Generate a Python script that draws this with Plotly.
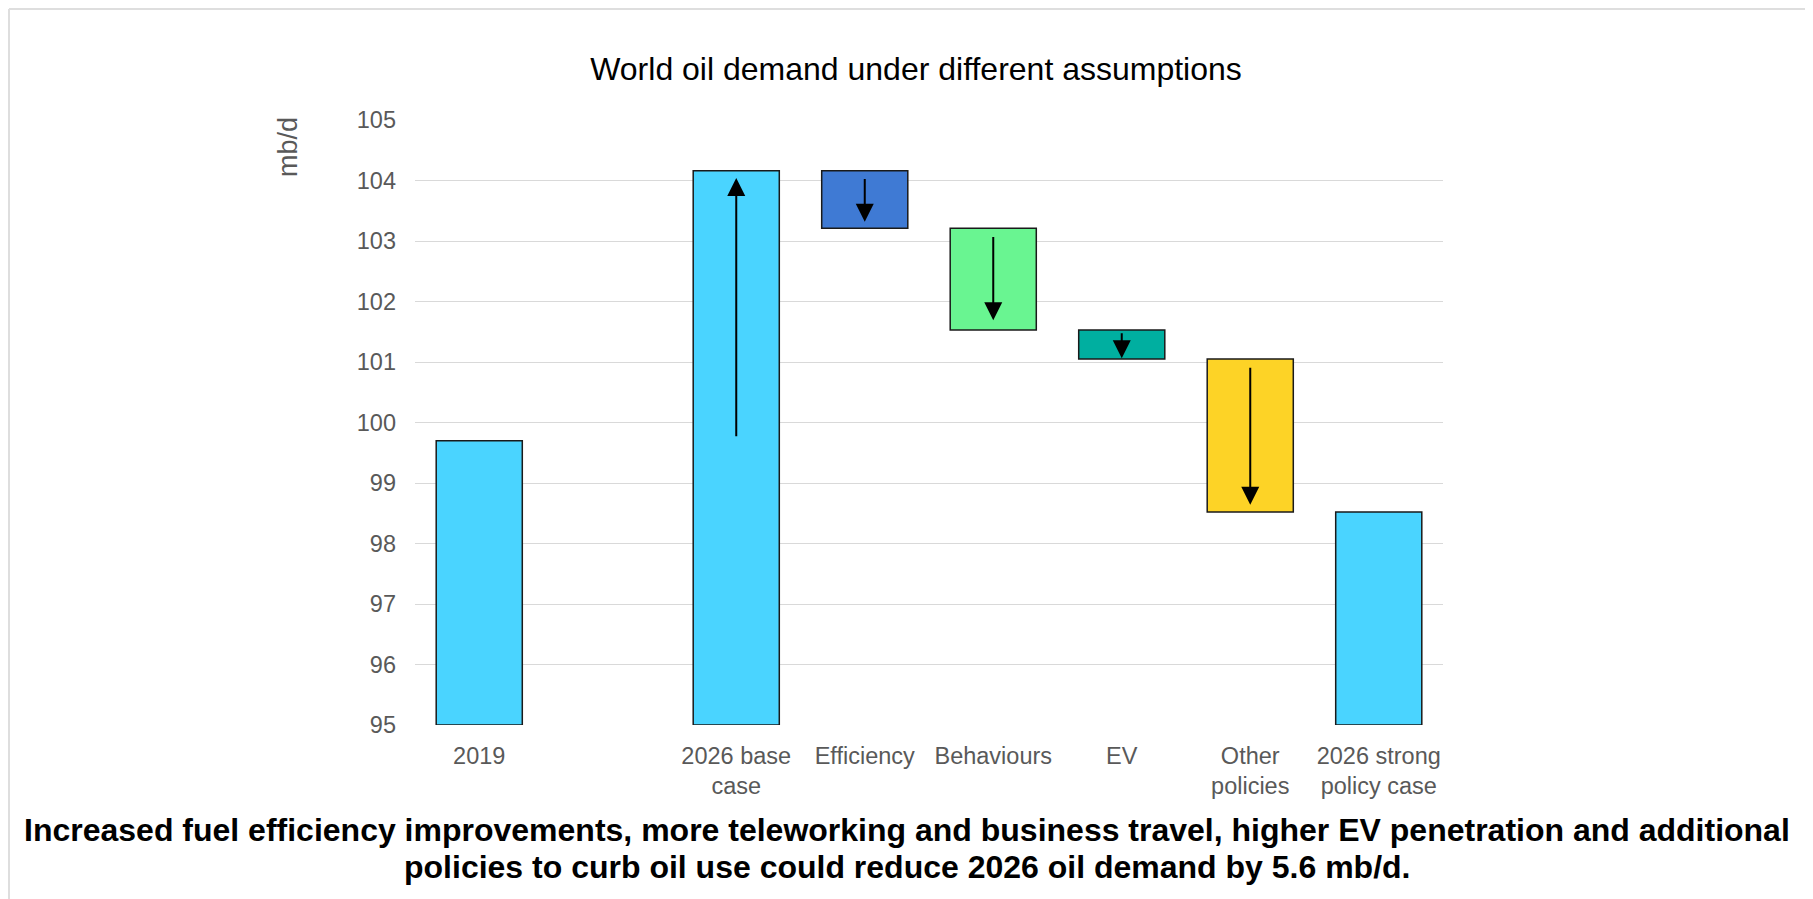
import plotly.graph_objects as go

# ---- data ----
categories = ["2019", "", "2026 base<br>case", "Efficiency", "Behaviours", "EV",
              "Other<br>policies", "2026 strong<br>policy case"]
bar_base = [95.0, None, 95.0, 103.21, 101.53, 101.05, 98.52, 95.0]
bar_top = [99.70, None, 104.16, 104.16, 103.21, 101.53, 101.05, 98.52]
bar_colors = ["#4AD4FF", "#FFFFFF", "#4AD4FF", "#3F7AD4", "#69F591", "#00AFA0",
              "#FDD326", "#4AD4FF"]
arrow_idx = [2, 3, 4, 5, 6]
arrow_tail = [99.75, 104.05, 103.09, 101.50, 100.93]
arrow_tip = [104.04, 103.32, 101.69, 101.06, 98.64]
y_ticks = [95, 96, 97, 98, 99, 100, 101, 102, 103, 104, 105]

title_text = "World oil demand under different assumptions"
caption_lines = [
    "Increased fuel efficiency improvements, more teleworking and business travel, "
    "higher EV penetration and additional",
    "policies to curb oil use could reduce 2026 oil demand by 5.6 mb/d.",
]

# ---- figure ----
FONT = "Liberation Sans, Arial, sans-serif"
# page has an 8px body margin; figure coordinates = page coordinates - 8
OFF = 8
W, H = 1813 - OFF, 899 - OFF
L, R, T, B = 415 - OFF, 370, 120 - OFF, 174
pw, ph = W - L - R, H - T - B


def px_x(px):  # px in page coordinates
    return (px - OFF - L) / pw


def px_y(py):
    return (H - B - (py - OFF)) / ph


xs = list(range(len(categories)))
keep = [i for i in xs if bar_top[i] is not None]

fig = go.Figure()
fig.add_trace(go.Bar(
    x=[xs[i] for i in keep],
    y=[bar_top[i] - bar_base[i] for i in keep],
    base=[bar_base[i] for i in keep],
    marker=dict(color=[bar_colors[i] for i in keep],
                line=dict(color="#1a1a1a", width=1.5)),
    width=0.67,
    hoverinfo="skip",
))

for i, t0, t1 in zip(arrow_idx, arrow_tail, arrow_tip):
    fig.add_annotation(
        x=xs[i], y=t1, ax=xs[i], ay=t0, xref="x", yref="y", axref="x", ayref="y",
        text="", showarrow=True, arrowhead=2, arrowsize=1.8, arrowwidth=2,
        arrowcolor="#000000", standoff=0, startstandoff=0,
    )

fig.add_annotation(
    text="mb/d", textangle=-90, xref="paper", yref="paper",
    x=px_x(288), y=px_y(147), xanchor="center", yanchor="middle",
    showarrow=False, font=dict(family=FONT, size=27, color="#595959"),
)

for line, py in zip(caption_lines, [830, 867]):
    fig.add_annotation(
        text="<b>" + line + "</b>",
        xref="paper", yref="paper", x=px_x(906.5), y=px_y(py),
        xanchor="center", yanchor="middle", align="center", showarrow=False,
        font=dict(family=FONT, size=32, color="#000000"),
    )

# light frame lines (top and left)
fig.add_shape(type="line", xref="paper", yref="paper",
              x0=px_x(9), x1=px_x(1813), y0=px_y(OFF + 1), y1=px_y(OFF + 1),
              line=dict(color="#dedede", width=2))
fig.add_shape(type="line", xref="paper", yref="paper",
              x0=px_x(9), x1=px_x(9), y0=px_y(OFF + 1), y1=px_y(899),
              line=dict(color="#dedede", width=2))

fig.update_layout(
    width=W, height=H,
    margin=dict(l=L, r=R, t=T, b=B),
    paper_bgcolor="white", plot_bgcolor="white",
    showlegend=False,
    bargap=0.33,
    title=dict(text=title_text, x=(916 - OFF) / W, xref="container", xanchor="center",
               y=1 - (69 - OFF) / H, yref="container", yanchor="middle",
               font=dict(family=FONT, size=32, color="#000000")),
    xaxis=dict(range=[-0.5, len(categories) - 0.5], tickmode="array",
               tickvals=xs, ticktext=categories, showgrid=False, zeroline=False,
               showline=False, ticks="", ticklabelstandoff=14,
               tickfont=dict(family=FONT, size=23.5, color="#595959")),
    yaxis=dict(range=[95, 105], tickmode="array", tickvals=y_ticks,
               showgrid=True, gridcolor="#d9d9d9", gridwidth=1.3, zeroline=False,
               showline=False, ticks="", ticklabelstandoff=18,
               tickfont=dict(family=FONT, size=23.5, color="#595959")),
)

fig.write_html("out.html")
